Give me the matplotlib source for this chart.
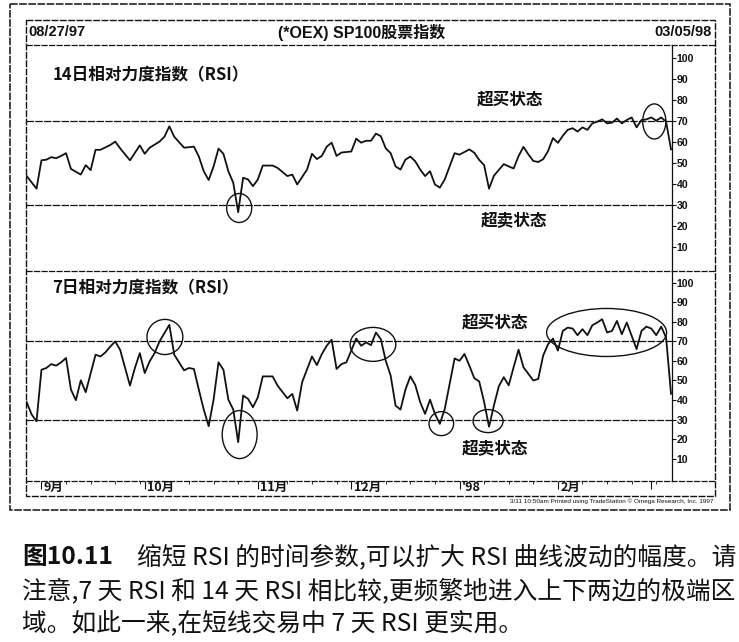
import matplotlib
matplotlib.use('Agg')
import matplotlib.pyplot as plt
import matplotlib.transforms as mtransforms
from matplotlib.patches import Ellipse, Rectangle

plt.rcParams['font.family'] = ['Noto Sans CJK SC', 'DejaVu Sans']

# 14-day RSI (trading day index from 08/27/97, value)
rsi14_day = [0, 2, 3, 4, 5, 6, 7, 8, 9, 11, 12, 13, 14, 15, 17, 18, 19, 21, 23, 24,
             25, 27, 28, 29, 30, 32, 34, 35, 36, 37, 38, 39, 40, 41, 42, 43, 44, 45, 46, 47,
             48, 50, 51, 53, 54, 55, 57, 58, 59, 60, 61, 62, 63, 64, 66, 67, 68, 69, 70, 71,
             72, 73, 74, 75, 76, 77, 78, 79, 80, 81, 82, 83, 84, 85, 87, 88, 90, 91, 92, 93,
             94, 95, 97, 98, 99, 100, 101, 102, 103, 104, 105, 106, 107, 108, 109, 110, 111, 112, 113, 114,
             115, 116, 117, 118, 119, 120, 121, 122, 123, 124, 125, 126, 127, 128, 129, 130, 131]
rsi14_val = [43.8, 37.8, 51.3, 51.6, 52.8, 52.3, 53.4, 54.7, 47.2, 44.5, 49.0, 46.6, 56.3, 56.3, 58.6, 60.2, 57.0, 51.3, 58.4, 54.4,
             57.3, 60.2, 62.5, 67.5, 62.5, 57.3, 57.8, 53.1, 46.1, 41.9, 48.4, 56.9, 54.4, 46.1, 40.6, 26.6, 43.0, 42.2, 39.0, 42.2,
             48.8, 48.8, 47.7, 43.8, 44.5, 39.8, 46.9, 54.4, 51.9, 53.4, 57.8, 59.7, 53.4, 55.0, 55.5, 61.6, 59.7, 60.6, 60.6, 64.0,
             62.8, 57.0, 54.7, 48.4, 46.9, 51.6, 53.1, 50.8, 46.9, 43.8, 46.1, 39.8, 38.3, 42.2, 54.7, 54.0, 56.5, 54.9, 51.5, 49.0,
             37.8, 44.0, 49.5, 48.4, 47.4, 53.3, 57.7, 54.1, 51.0, 50.5, 51.8, 55.7, 61.9, 59.6, 63.0, 65.8, 66.6, 65.0, 67.0, 65.8,
             68.9, 69.7, 70.8, 68.9, 69.2, 71.2, 68.9, 70.5, 71.7, 67.0, 70.5, 70.8, 71.7, 70.2, 71.7, 69.7, 56.5]

# 7-day RSI
rsi7_day = [0, 1, 2, 3, 4, 5, 6, 7, 8, 9, 10, 11, 12, 14, 15, 16, 17, 18, 19, 21,
            22, 23, 24, 25, 26, 27, 29, 30, 32, 33, 34, 35, 36, 37, 38, 39, 40, 41, 42, 43,
            44, 45, 46, 47, 48, 50, 51, 53, 54, 55, 56, 58, 59, 60, 61, 62, 63, 64, 65, 67,
            68, 69, 70, 71, 72, 73, 74, 75, 76, 77, 78, 79, 80, 81, 82, 83, 84, 85, 87, 88,
            89, 90, 91, 92, 93, 94, 95, 96, 97, 98, 99, 100, 101, 103, 104, 105, 106, 107, 108, 109,
            110, 111, 112, 113, 114, 115, 116, 117, 118, 119, 120, 121, 122, 123, 124, 125, 126, 127, 128, 129,
            130, 131]
rsi7_val = [38.9, 32.6, 29.1, 55.5, 56.4, 58.4, 57.6, 59.3, 61.5, 45.3, 39.9, 50.1, 44.0, 63.2, 62.3, 64.4, 67.4, 70.0, 65.7, 47.4,
            56.4, 64.0, 53.8, 59.8, 64.0, 70.0, 78.5, 63.2, 55.2, 56.4, 55.9, 45.3, 35.1, 26.6, 40.2, 59.3, 55.5, 40.2, 35.1, 18.4,
            42.3, 40.6, 36.3, 41.4, 52.1, 52.1, 47.4, 40.9, 43.1, 34.6, 49.1, 62.3, 57.9, 63.5, 67.8, 70.9, 55.9, 58.4, 59.3, 71.5,
            67.8, 69.5, 68.1, 74.6, 71.2, 60.1, 52.5, 37.1, 35.1, 45.3, 52.1, 47.7, 38.9, 32.9, 40.2, 32.9, 27.8, 35.4, 61.3, 60.1,
            63.6, 57.6, 51.2, 49.5, 39.0, 26.3, 37.3, 47.1, 51.7, 47.5, 56.8, 65.8, 56.8, 50.0, 50.8, 62.7, 68.6, 71.5, 65.3, 75.4,
            77.1, 76.6, 73.2, 76.3, 73.2, 78.3, 79.7, 81.4, 74.6, 75.4, 80.5, 73.7, 79.7, 72.9, 66.1, 75.4, 77.6, 76.6, 73.2, 77.6,
            72.0, 43.2]

month_days = [3, 24, 47, 66, 88, 108, 127]
month_labels = ['9月', '10月', '11月', '12月', "'98", '2月', '']
week_days = list(range(3, 132, 5))
rsi_ticks = [10, 20, 30, 40, 50, 60, 70, 80, 90, 100]
overbought = 70
oversold = 30

# hand drawn circles: (day, value, width in days, height in RSI points)
circles14 = [(43.2, 28.6, 5.1, 13.8), (127.6, 69.8, 4.7, 16.7)]
circles7 = [(28.1, 72.3, 7.3, 18.0), (43.3, 22.3, 7.1, 24.6), (70.4, 68.5, 9.3, 17.4),
            (84.3, 27.9, 5.0, 12.3), (93.8, 29.2, 6.1, 11.8), (117.9, 74.6, 24.4, 24.6)]

title = '(*OEX) SP100股票指数'
start_date = '08/27/97'
end_date = '03/05/98'
caption_bold = '图10.11'
caption = ['缩短 RSI 的时间参数,可以扩大 RSI 曲线波动的幅度。请',
           '注意,7 天 RSI 和 14 天 RSI 相比较,更频繁地进入上下两边的极端区',
           '域。如此一来,在短线交易中 7 天 RSI 更实用。']

W, H = 739, 642
INK = '#111111'


def px_rect(x0, y0, x1, y1):
    return [x0 / W, 1 - y1 / H, (x1 - x0) / W, (y1 - y0) / H]


fig = plt.figure(figsize=(W / 100, H / 100), dpi=100)
fig.patch.set_facecolor('white')

# overlay in pixel coords for the boxes and the text
frame = fig.add_axes([0, 0, 1, 1])
frame.set_xlim(0, W)
frame.set_ylim(H, 0)
frame.axis('off')
frame.add_patch(Rectangle((10, 4), 720, 506, fill=False, ec=INK, lw=1.1, ls=(0, (5, 1))))
frame.add_patch(Rectangle((26, 20), 689, 476, fill=False, ec=INK, lw=1.0, ls=(0, (5, 1))))
for yy in [45, 271, 481]:
    frame.plot([26, 715], [yy, yy], color=INK, lw=0.9, ls=(0, (5, 1)))

frame.text(28, 32, start_date, fontsize=10.5, fontweight='bold', family='Liberation Sans',
           ha='left', va='center', color=INK)
frame.text(712, 32, end_date, fontsize=10.5, fontweight='bold', family='Liberation Sans',
           ha='right', va='center', color=INK)
frame.text(362, 32, title, fontsize=11.5, fontweight='bold', ha='center', va='center', color=INK,
           family=['Liberation Sans', 'Noto Sans CJK SC'])

frame.text(53, 75, '14日相对力度指数（RSI）', fontsize=12, fontweight='bold', ha='left', va='center', color=INK)
frame.text(510, 100, '超买状态', fontsize=12, fontweight='bold', ha='center', va='center', color=INK)
frame.text(514, 220, '超卖状态', fontsize=12, fontweight='bold', ha='center', va='center', color=INK)
frame.text(52, 288, '7日相对力度指数（RSI）', fontsize=12, fontweight='bold', ha='left', va='center', color=INK)
frame.text(495, 323, '超买状态', fontsize=12, fontweight='bold', ha='center', va='center', color=INK)
frame.text(495, 448, '超卖状态', fontsize=12, fontweight='bold', ha='center', va='center', color=INK)

frame.text(713, 501, '3/11 10:50am Printed using TradeStation © Omega Research, Inc. 1997',
           fontsize=4.6, family='Liberation Sans', ha='right', va='center', color=INK)

frame.text(22, 557, caption_bold, fontsize=17.8, fontweight='bold', ha='left', va='center', color=INK)
frame.text(137, 557, caption[0], fontsize=17.8, ha='left', va='center', color=INK)
frame.text(22, 591, caption[1], fontsize=17.8, ha='left', va='center', color=INK)
frame.text(22, 624, caption[2], fontsize=17.8, ha='left', va='center', color=INK)

ax_top = fig.add_axes(px_rect(26, 45, 672, 271))
ax_bot = fig.add_axes(px_rect(26, 271, 672, 481))

panels = [(ax_top, rsi14_day, rsi14_val, circles14, (-1.4, 106.2)),
          (ax_bot, rsi7_day, rsi7_val, circles7, (-1.5, 106.1))]

for ax, days, vals, circles, ylim in panels:
    ax.patch.set_alpha(0)
    ax.plot(days, vals, color=INK, lw=1.3, solid_joinstyle='round')
    ax.axhline(overbought, color=INK, lw=0.9, ls=(0, (6, 1)))
    ax.axhline(oversold, color=INK, lw=0.9, ls=(0, (6, 1)))
    for cx, cy, cw, ch in circles:
        ax.add_patch(Ellipse((cx, cy), cw, ch, fill=False, ec=INK, lw=1.0))
    ax.set_xlim(-0.14, 131.2)
    ax.set_ylim(*ylim)
    for side in ['top', 'left', 'bottom']:
        ax.spines[side].set_visible(False)
    ax.spines['right'].set_color(INK)
    ax.spines['right'].set_linewidth(0.9)
    ax.yaxis.tick_right()
    ax.set_yticks(rsi_ticks)
    ax.tick_params(axis='y', direction='out', length=3, width=0.8, pad=0.5, labelsize=7.6, colors=INK)
    for lbl in ax.get_yticklabels():
        lbl.set_fontweight('bold')
        lbl.set_family('Liberation Sans')

ax_top.set_xticks([])

ax_bot.set_xticks(month_days)
ax_bot.set_xticklabels(month_labels)
ax_bot.set_xticks(week_days, minor=True)
ax_bot.tick_params(axis='x', which='major', direction='out', length=6, width=0.8, pad=-6, labelsize=9, colors=INK)
ax_bot.tick_params(axis='x', which='minor', direction='out', length=2, width=0.6, colors=INK)
shift = mtransforms.ScaledTranslation(2.5 / 100, 0, fig.dpi_scale_trans)
for lbl in ax_bot.get_xticklabels():
    lbl.set_ha('left')
    lbl.set_fontweight('bold')
    lbl.set_transform(lbl.get_transform() + shift)

fig.savefig('out.png', dpi=100, facecolor='white')
